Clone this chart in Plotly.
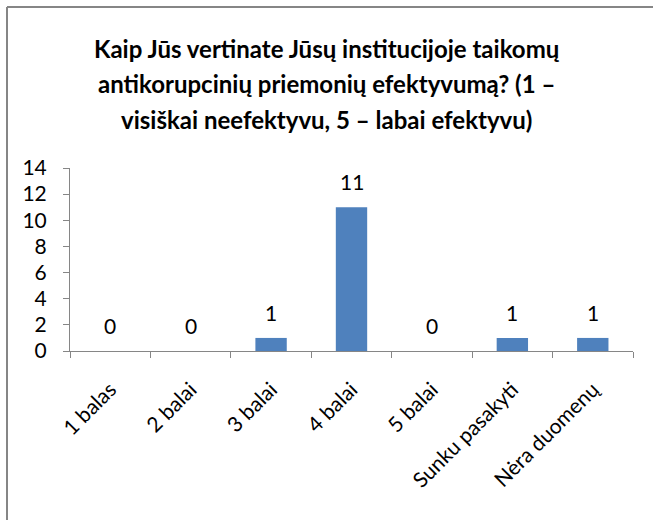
import plotly.graph_objects as go

categories = ["1 balas", "2 balai", "3 balai", "4 balai", "5 balai", "Sunku pasakyti", "Nėra duomenų"]
values = [0, 0, 1, 11, 0, 1, 1]
y_ticks = [0, 2, 4, 6, 8, 10, 12, 14]
title_lines = [
    "Kaip Jūs vertinate Jūsų institucijoje taikomų",
    "antikorupcinių priemonių efektyvumą? (1 –",
    "visiškai neefektyvu, 5 – labai efektyvu)",
]

FONT = "Lato, Calibri, sans-serif"
W, H = 653, 520
ML, MR, MT, MB = 70, 20, 168, 169
pw = W - ML - MR
ph = H - MT - MB

fig = go.Figure(go.Bar(
    x=categories, y=values,
    marker=dict(color="#4F81BD", line=dict(width=0)),
    width=0.39,
))

annotations = []
for c, v in zip(categories, values):
    annotations.append(dict(
        x=c, y=v, xref="x", yref="y", text=str(v), showarrow=False,
        yanchor="bottom", yshift=11,
        font=dict(family=FONT, size=21, color="#000000"),
    ))

for i, line in enumerate(title_lines):
    annotations.append(dict(
        x=(W / 2 - ML) / pw, xref="paper", yref="paper",
        y=1 + (MT - 48 - i * 36) / ph,
        text="<b>" + line + "</b>", showarrow=False,
        xanchor="center", yanchor="middle",
        font=dict(family=FONT, size=24, color="#000000"),
    ))

# outer chart border: only the top and left edges are inside the picture
bx = (7 - ML) / pw
by = 1 + (MT - 7) / ph
fig.add_shape(type="line", xref="paper", yref="paper",
              x0=bx, x1=(W + 40 - ML) / pw, y0=by, y1=by,
              line=dict(color="#868686", width=2))
fig.add_shape(type="line", xref="paper", yref="paper",
              x0=bx, x1=bx, y0=by, y1=-(H + 40 - MT - ph) / ph,
              line=dict(color="#868686", width=2))

fig.update_layout(
    width=W, height=H,
    margin=dict(l=ML, r=MR, t=MT, b=MB, autoexpand=False),
    paper_bgcolor="white", plot_bgcolor="white",
    showlegend=False,
    annotations=annotations,
    font=dict(family=FONT, size=20, color="#000000"),
    xaxis=dict(
        type="category", tickson="boundaries", ticks="outside", ticklen=6,
        tickcolor="#868686", showline=True, linecolor="#868686", linewidth=1,
        tickangle=-45, showgrid=False, zeroline=False, automargin=False,
        ticklabelstandoff=17,
        tickfont=dict(family=FONT, size=21),
    ),
    yaxis=dict(
        range=[0, 14], tickvals=y_ticks, ticks="outside", ticklen=6,
        tickcolor="#868686", showline=True, linecolor="#868686", linewidth=1,
        showgrid=False, zeroline=False, automargin=False,
        ticklabelstandoff=12,
        tickfont=dict(family=FONT, size=21),
    ),
)

fig.write_html(
    "out.html",
    config={"displayModeBar": False},
    post_script=(
        "document.documentElement.style.margin='0';"
        "document.documentElement.style.overflow='hidden';"
        "document.body.style.margin='0';"
        "document.body.style.overflow='hidden';"
    ),
)
